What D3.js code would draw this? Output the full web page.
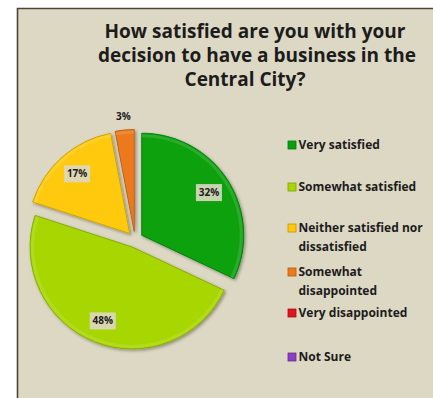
<!DOCTYPE html>
<html>
<head>
<meta charset="utf-8">
<script src="https://cdn.jsdelivr.net/npm/d3@7"></script>
<style>
  html, body { margin: 0; padding: 0; background: #ffffff; }
  svg { display: block; }
</style>
</head>
<body>
<svg id="chart" width="433" height="398"></svg>
<script>
// Survey responses
const categories = [
  "Very satisfied",
  "Somewhat satisfied",
  "Neither satisfied nor dissatisfied",
  "Somewhat disappointed",
  "Very disappointed",
  "Not Sure"
];
const legendLines = [
  ["Very satisfied"],
  ["Somewhat satisfied"],
  ["Neither satisfied nor", "dissatisfied"],
  ["Somewhat", "disappointed"],
  ["Very disappointed"],
  ["Not Sure"]
];
const shares = [32, 48, 17, 3, 0, 0];
const colors = ["#08a10c", "#a8d604", "#ffc90a", "#ec7a1c", "#e0141c", "#8a3cc4"];
const titleLines = [
  "How satisfied are you with your",
  "decision to have a business in the",
  "Central City?"
];

const svg = d3.select("#chart");
const font = "'Open Sans', sans-serif";

// Panel
svg.append("rect")
  .attr("x", 17).attr("y", 8)
  .attr("width", 433 - 17).attr("height", 398 - 8)
  .attr("fill", "#ddd8c3");
svg.append("path")
  .attr("d", "M17.5,398 V8.5 H433")
  .attr("fill", "none").attr("stroke", "#4a4636").attr("stroke-width", 1.6);

// Title (centred lines, last one sits a little left)
const titleX = [255, 257, 245];
svg.append("text")
  .attr("font-family", font).attr("font-weight", 700)
  .attr("font-size", 19).attr("fill", "#1c1c1c")
  .attr("text-anchor", "middle")
  .selectAll("tspan").data(titleLines).join("tspan")
  .attr("x", (d, i) => titleX[i]).attr("y", (d, i) => 38 + i * 24)
  .text(d => d);

const defs = svg.append("defs");

// Pie
const cx = 135, cy = 239.5, radius = 102, explode = 8;
const pie = d3.pie().sort(null).value(d => d.v).startAngle(0).endAngle(2 * Math.PI);
const data = pie(shares.map((v, i) => ({ v, i }))).filter(d => d.data.v > 0);
const arc = d3.arc().innerRadius(0).outerRadius(radius);

const g = svg.append("g").attr("transform", `translate(${cx},${cy})`);

const offset = d => {
  const a = (d.startAngle + d.endAngle) / 2;
  return [Math.sin(a) * explode, -Math.cos(a) * explode];
};

// soft shadow
const shadow = defs.append("filter").attr("id", "shadow")
  .attr("x", "-20%").attr("y", "-20%").attr("width", "140%").attr("height", "140%");
shadow.append("feDropShadow").attr("dx", 1.5).attr("dy", 1.5)
  .attr("stdDeviation", 1.5).attr("flood-color", "#000").attr("flood-opacity", 0.35);

g.selectAll("path.slice").data(data).join("path")
  .attr("class", "slice")
  .attr("transform", d => `translate(${offset(d)})`)
  .attr("d", arc)
  .attr("fill", d => colors[d.data.i])
  .attr("stroke", d => d3.color(colors[d.data.i]).darker(0.6))
  .attr("stroke-width", 1)
  .attr("filter", "url(#shadow)");

// Inner highlight ring
const rim = d3.arc().innerRadius(radius - 4).outerRadius(radius - 1);
g.selectAll("path.rim").data(data).join("path")
  .attr("class", "rim")
  .attr("transform", d => `translate(${offset(d)})`)
  .attr("d", rim)
  .attr("fill", "#ffffff").attr("opacity", 0.12);

// Data labels
const labelRadius = d => d.data.v < 5 ? radius + 14 : radius * 0.78;
const labels = g.selectAll("g.lbl").data(data).join("g")
  .attr("class", "lbl")
  .attr("transform", d => {
    const a = (d.startAngle + d.endAngle) / 2;
    const [ox, oy] = offset(d);
    const r = labelRadius(d);
    return `translate(${ox + Math.sin(a) * r},${oy - Math.cos(a) * r})`;
  });
labels.filter(d => d.data.v >= 5).append("rect")
  .attr("x", -13).attr("y", -8.5).attr("width", 26).attr("height", 17)
  .attr("fill", "#ddd8c3").attr("opacity", 0.9);
labels.append("text")
  .attr("text-anchor", "middle").attr("dy", "0.35em")
  .attr("font-family", font).attr("font-weight", 700)
  .attr("font-size", 10).attr("fill", "#1c1c1c")
  .text(d => d.data.v + "%");

// Legend
const legendY = [145, 187, 228, 272, 313, 357];
const legend = svg.append("g");
const items = legend.selectAll("g").data(categories).join("g")
  .attr("transform", (d, i) => `translate(288,${legendY[i]})`);
items.append("rect")
  .attr("x", 0).attr("y", -4).attr("width", 8).attr("height", 8)
  .attr("fill", (d, i) => colors[i])
  .attr("stroke", (d, i) => d3.color(colors[i]).darker(0.8)).attr("stroke-width", 0.8);
items.append("text")
  .attr("font-family", font).attr("font-weight", 700)
  .attr("font-size", 12).attr("fill", "#1c1c1c")
  .selectAll("tspan").data((d, i) => legendLines[i]).join("tspan")
  .attr("x", 10.5).attr("y", (d, j) => j * 19)
  .attr("dy", "0.35em")
  .text(d => d);
</script>
</body>
</html>
